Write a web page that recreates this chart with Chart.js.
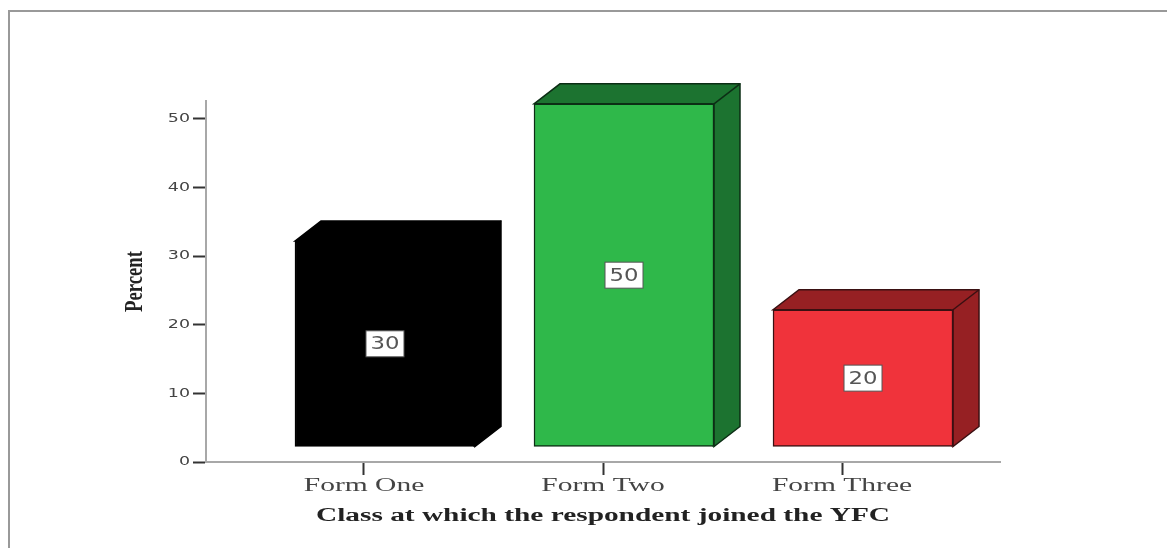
<!DOCTYPE html>
<html>
<head>
<meta charset="utf-8">
<script src="https://cdn.jsdelivr.net/npm/chart.js@4"></script>
<style>
  html, body { margin: 0; background: #fff; overflow: hidden; }
  #frame { position: absolute; left: 8px; top: 10px; width: 1200px; height: 600px; border: 2px solid #999; }
  #grafico { position: absolute; left: 0; top: 0; filter: blur(0.6px); }
</style>
</head>
<body>
<div id="frame"></div>
<canvas id="grafico" width="1167" height="548"></canvas>
<script>
const categorias = ['Form One', 'Form Two', 'Form Three'];
const percentuais = [30, 50, 20];
const ticksY = [0, 10, 20, 30, 40, 50];
const tituloX = 'Class at which the respondent joined the YFC';
const tituloY = 'Percent';

const corFrente = ['#000000', '#2fb84a', '#f0333b'];
const corLado = ['#000000', '#1c7330', '#962023'];
const corBorda = ['#000000', '#0c2e15', '#3a1012'];

// deslocamento do "3D" em pixels
const desvioX = 21, desvioY = -15;
const fundoX = 26, fundoY = -20;

// o original foi esticado na horizontal, entao cada texto tem sua escala
function esticar(texto) {
  if (texto === tituloX) return 1.63;
  if (texto === tituloY) return 0.72;
  if (categorias.includes(texto)) return 1.64;
  return 1.34;
}

const pluginBarras3D = {
  id: 'barras3d',
  beforeInit(chart) {
    const ctx = chart.ctx;
    const original = ctx.fillText.bind(ctx);
    ctx.fillText = (texto, x, y) => {
      ctx.save();
      ctx.translate(x, y);
      ctx.scale(esticar(texto), 1);
      original(texto, 0, 0);
      ctx.restore();
    };
  },
  beforeDatasetsDraw(chart) {
    const ctx = chart.ctx;
    chart.getDatasetMeta(0).data.forEach((barra, i) => {
      const esq = barra.x - barra.width / 2 + desvioX;
      const dir = barra.x + barra.width / 2 + desvioX;
      const topo = barra.y + desvioY;
      const base = barra.base + desvioY;
      ctx.fillStyle = corLado[i];
      ctx.strokeStyle = corBorda[i];
      ctx.lineWidth = 1.5;
      ctx.beginPath();
      ctx.moveTo(esq, topo);
      ctx.lineTo(esq + fundoX, topo + fundoY);
      ctx.lineTo(dir + fundoX, topo + fundoY);
      ctx.lineTo(dir + fundoX, base + fundoY);
      ctx.lineTo(dir, base);
      ctx.lineTo(dir, topo);
      ctx.closePath();
      ctx.fill();
      ctx.stroke();
      ctx.fillRect(dir - 2, topo, 2, base - topo);
      ctx.beginPath();
      ctx.moveTo(dir, topo);
      ctx.lineTo(dir + fundoX, topo + fundoY);
      ctx.stroke();
    });
  },
  beforeDatasetDraw(chart) {
    chart.ctx.save();
    chart.ctx.translate(desvioX, desvioY);
  },
  afterDatasetDraw(chart) {
    chart.ctx.restore();
  },
  afterDatasetsDraw(chart) {
    const ctx = chart.ctx;
    chart.getDatasetMeta(0).data.forEach((barra, i) => {
      const cx = barra.x + desvioX;
      const cy = (barra.y + barra.base) / 2 + desvioY;
      ctx.fillStyle = '#ffffff';
      ctx.strokeStyle = '#555555';
      ctx.lineWidth = 1;
      ctx.fillRect(cx - 19, cy - 13, 38, 26);
      ctx.strokeRect(cx - 19, cy - 13, 38, 26);
      ctx.fillStyle = '#555555';
      ctx.font = '17px "DejaVu Sans"';
      ctx.textAlign = 'center';
      ctx.textBaseline = 'middle';
      ctx.fillText(String(percentuais[i]), cx, cy + 1);
    });
  }
};

new Chart(document.getElementById('grafico'), {
  type: 'bar',
  data: {
    labels: categorias,
    datasets: [{
      data: categorias.map((c, i) => ({ x: i, y: percentuais[i] })),
      backgroundColor: corFrente,
      borderColor: corBorda,
      borderWidth: 1.5,
      borderSkipped: false,
      barThickness: 180,
      clip: false
    }]
  },
  plugins: [pluginBarras3D],
  options: {
    responsive: false,
    animation: false,
    layout: { padding: { left: 0, right: 167, top: 101, bottom: 0 } },
    plugins: { legend: { display: false }, tooltip: { enabled: false } },
    scales: {
      x: {
        type: 'linear',
        offset: false,
        min: -0.661,
        max: 2.661,
        afterFit: s => { s.height = 86; },
        afterBuildTicks: s => { s.ticks = categorias.map((c, i) => ({ value: i })); },
        border: { color: '#a8a8a8', width: 2 },
        grid: { offset: false, drawOnChartArea: false, tickColor: '#333333', tickLength: 13, tickWidth: 2 },
        ticks: {
          callback: v => categorias[v],
          autoSkip: false,
          maxRotation: 0,
          padding: 0,
          color: '#444444',
          font: { family: '"Liberation Serif"', size: 18 }
        },
        title: {
          display: true,
          text: tituloX,
          color: '#222222',
          font: { family: '"Liberation Serif"', size: 18, weight: 'bold', lineHeight: 1.2 },
          padding: { top: 0, bottom: 21 }
        }
      },
      y: {
        min: 0,
        max: 52.6,
        afterFit: s => { s.width = 206; },
        afterBuildTicks: s => { s.ticks = ticksY.map(v => ({ value: v })); },
        border: { color: '#a8a8a8', width: 2 },
        grid: { drawOnChartArea: false, tickColor: '#333333', tickLength: 13, tickWidth: 2 },
        ticks: {
          padding: 3,
          color: '#444444',
          font: { family: '"DejaVu Sans"', size: 13 }
        },
        title: {
          display: true,
          text: tituloY,
          color: '#222222',
          font: { family: '"Liberation Serif"', size: 26, weight: 'bold', lineHeight: 1.2 },
          padding: { top: 120, bottom: 0 }
        }
      }
    }
  }
});
</script>
</body>
</html>
